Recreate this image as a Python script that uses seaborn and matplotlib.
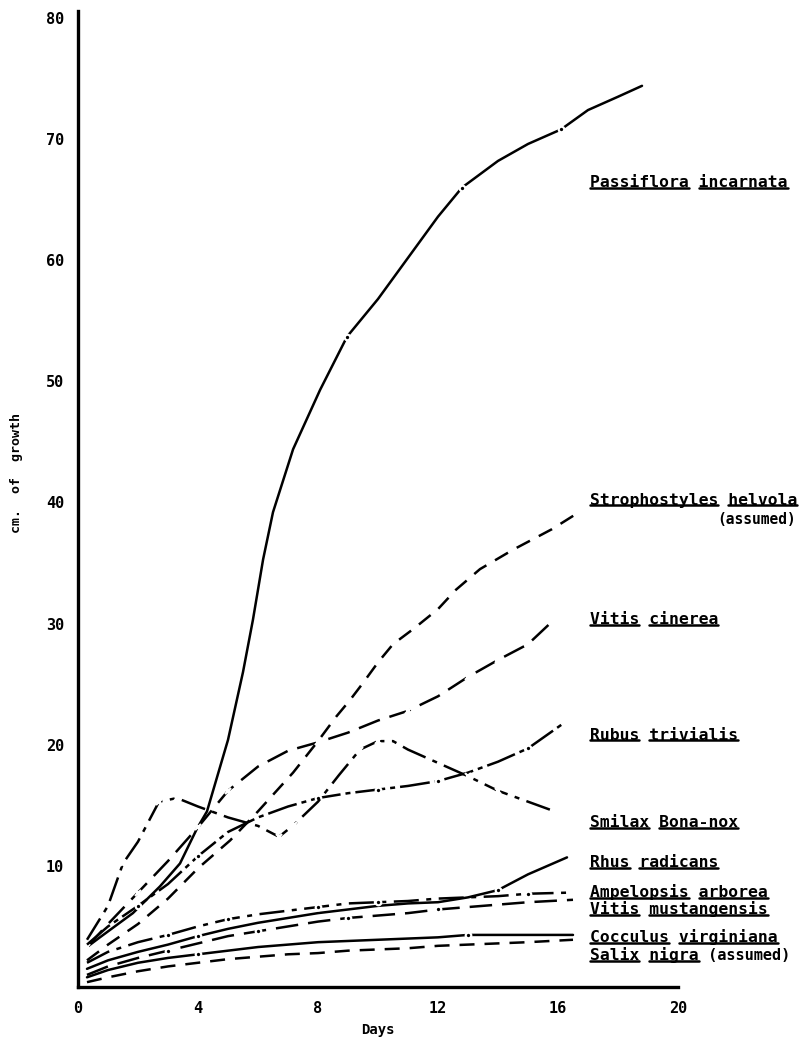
import matplotlib
matplotlib.use("Agg")
import matplotlib.pyplot as plt
import seaborn as sns
import pandas as pd
from matplotlib.lines import Line2D

# days and cm of growth
passiflora_x = [0.3, 0.73, 1.83, 2.73, 3.4, 3.97, 4.3, 5.0, 5.5, 5.83, 6.17, 6.5, 7.17, 8.07, 8.97, 10.0, 11.0, 12.0, 12.8, 14.0, 15.0, 16.1, 17.0, 18.0, 18.8]
passiflora_y = [3.3, 4.1, 6.1, 8.3, 10.2, 13.1, 14.5, 20.4, 26.0, 30.3, 35.3, 39.2, 44.4, 49.3, 53.7, 56.8, 60.2, 63.6, 66.0, 68.2, 69.6, 70.8, 72.4, 73.5, 74.4]

stropho_x = [0.3, 1.0, 2.0, 3.0, 3.4, 4.0, 5.07, 6.0, 6.73, 7.17, 8.0, 8.6, 9.07, 9.5, 10.0, 10.5, 11.2, 12.0, 12.6, 13.4, 14.5, 15.8, 16.7]
stropho_y = [2.2, 3.5, 5.2, 7.3, 8.3, 9.8, 12.1, 14.5, 16.5, 17.7, 20.3, 22.3, 23.7, 25.1, 26.8, 28.3, 29.6, 31.2, 32.8, 34.5, 36.1, 37.8, 39.2]

cinerea_x = [0.3, 1.0, 2.0, 3.0, 4.0, 5.0, 6.0, 7.0, 8.0, 9.0, 10.0, 11.0, 12.0, 13.0, 14.0, 15.0, 15.9]
cinerea_y = [3.3, 5.2, 7.8, 10.4, 13.2, 16.2, 18.2, 19.5, 20.2, 21.0, 22.0, 22.8, 24.0, 25.6, 27.0, 28.3, 30.4]

rubus_x = [0.3, 1.0, 2.0, 3.0, 4.0, 5.0, 6.0, 7.0, 8.0, 9.0, 10.0, 11.0, 12.0, 13.0, 14.0, 15.0, 16.2]
rubus_y = [3.5, 5.0, 6.7, 8.5, 10.8, 12.8, 14.0, 14.9, 15.6, 16.0, 16.3, 16.6, 17.0, 17.7, 18.6, 19.7, 21.8]

smilax_x = [0.3, 1.0, 1.5, 2.0, 2.7, 3.3, 4.0, 5.0, 6.0, 6.7, 7.2, 8.0, 8.7, 9.4, 10.0, 10.5, 11.0, 12.0, 13.0, 14.0, 15.0, 16.0]
smilax_y = [3.9, 6.7, 10.2, 12.0, 15.3, 15.6, 14.9, 14.0, 13.3, 12.4, 13.4, 15.3, 17.5, 19.6, 20.3, 20.3, 19.6, 18.5, 17.4, 16.2, 15.3, 14.4]

rhus_x = [0.3, 1.0, 2.0, 3.0, 4.0, 5.0, 6.0, 7.0, 8.0, 9.0, 10.0, 11.0, 12.0, 13.0, 14.0, 15.0, 16.3]
rhus_y = [1.5, 2.2, 2.9, 3.5, 4.2, 4.8, 5.3, 5.7, 6.1, 6.4, 6.7, 6.9, 7.0, 7.4, 8.0, 9.3, 10.7]

ampel_x = [0.3, 1.0, 2.0, 3.0, 4.0, 5.0, 6.0, 7.0, 8.0, 9.0, 10.0, 11.0, 12.0, 13.0, 14.0, 15.0, 16.5]
ampel_y = [2.0, 2.9, 3.7, 4.3, 5.0, 5.6, 6.0, 6.3, 6.6, 6.9, 7.0, 7.1, 7.3, 7.4, 7.5, 7.7, 7.8]

mustang_x = [0.3, 1.0, 2.0, 3.0, 4.0, 5.0, 6.0, 7.0, 8.0, 9.0, 10.0, 11.0, 12.0, 13.0, 14.0, 15.0, 16.5]
mustang_y = [1.0, 1.7, 2.4, 3.0, 3.6, 4.2, 4.6, 5.0, 5.4, 5.7, 5.9, 6.1, 6.4, 6.6, 6.8, 7.0, 7.2]

cocculus_x = [0.3, 1.0, 2.0, 3.0, 4.0, 5.0, 6.0, 7.0, 8.0, 9.0, 10.0, 11.0, 12.0, 13.0, 14.0, 15.0, 16.5]
cocculus_y = [0.8, 1.4, 2.0, 2.4, 2.7, 3.0, 3.3, 3.5, 3.7, 3.8, 3.9, 4.0, 4.1, 4.3, 4.3, 4.3, 4.3]

salix_x = [0.3, 1.0, 2.0, 3.0, 4.0, 5.0, 6.0, 7.0, 8.0, 9.0, 10.0, 11.0, 12.0, 13.0, 14.0, 15.0, 16.5]
salix_y = [0.4, 0.8, 1.3, 1.7, 2.0, 2.3, 2.5, 2.7, 2.8, 3.0, 3.1, 3.2, 3.4, 3.5, 3.6, 3.7, 3.9]

x_ticks = [0, 4, 8, 12, 16, 20]
y_ticks = [10, 20, 30, 40, 50, 60, 70, 80]

MONO = ["DejaVu Sans Mono", "Liberation Mono"]

sns.set_style("white")
plt.rcParams["font.family"] = MONO
plt.rcParams["font.weight"] = "bold"
for key in ("text.color", "axes.labelcolor", "xtick.color", "ytick.color"):
    plt.rcParams[key] = "black"

fig = plt.figure(figsize=(8.01, 10.40), dpi=100)
ax = fig.add_axes([78 / 801, 53 / 1040, 723 / 801, 969 / 1040])

series = [
    # x, y, linestyle, marker, markevery
    (passiflora_x, passiflora_y, "-", "o", [14, 18, 21]),
    (stropho_x, stropho_y, (0, (6, 4)), None, None),
    (cinerea_x, cinerea_y, (0, (9, 4)), "x", [0, 2, 4, 5, 8, 11, 13, 14, 15, 16]),
    (rubus_x, rubus_y, (0, (12, 2, 2, 2)), "o", [2, 4, 8, 10, 12, 15]),
    (smilax_x, smilax_y, (0, (10, 3, 2, 3)), "x", [2, 4, 5, 9, 10, 13, 14, 18, 19, 21]),
    (rhus_x, rhus_y, "-", "o", [4, 14]),
    (ampel_x, ampel_y, (0, (10, 3, 2, 3)), "o", [3, 5, 8, 10, 15]),
    (mustang_x, mustang_y, (0, (9, 4)), "o", [3, 6, 9, 12]),
    (cocculus_x, cocculus_y, "-", "o", [4, 13]),
    (salix_x, salix_y, (0, (6, 4)), None, None),
]

for xs, ys, ls, mk, every in series:
    df = pd.DataFrame({"day": xs, "cm": ys})
    kw = dict(color="black", linewidth=1.8, linestyle=ls, ax=ax, clip_on=False)
    if mk is not None:
        kw.update(marker=mk, markevery=every, markersize=4, markeredgewidth=1.6)
    sns.lineplot(data=df, x="day", y="cm", estimator=None, sort=False, **kw)

ax.set_xlim(0, 24.1)
ax.set_ylim(0, 80)
sns.despine(ax=ax)
ax.spines["left"].set_bounds(0, 80.6)
ax.spines["bottom"].set_bounds(0, 20)
for s in ("left", "bottom"):
    ax.spines[s].set_linewidth(2.4)
    ax.spines[s].set_color("black")

ax.set_xticks(x_ticks)
ax.set_yticks(y_ticks)
ax.tick_params(length=0, labelsize=11, pad=10)
for t in ax.get_xticklabels() + ax.get_yticklabels():
    t.set_fontweight("bold")
ax.set_xlabel("Days", fontsize=10, fontweight="bold")
ax.xaxis.set_label_coords(300 / 723, -36 / 969)
ax.set_ylabel("cm.  of  growth", fontsize=9.5, fontweight="bold")
ax.yaxis.set_label_coords(-55 / 723, 0.53)

# species labels on the right, each word underlined like the typed original
labels = [
    (66.4, "Passiflora incarnata", None),
    (40.2, "Strophostyles helvola", None),
    (30.3, "Vitis cinerea", None),
    (20.8, "Rubus trivialis", None),
    (13.6, "Smilax Bona-nox", None),
    (10.3, "Rhus radicans", None),
    (7.85, "Ampelopsis arborea", None),
    (6.45, "Vitis mustangensis", None),
    (4.13, "Cocculus virginiana", None),
    (2.64, "Salix nigra", " (assumed)"),
]
label_x = 17.07

fig.canvas.draw()
renderer = fig.canvas.get_renderer()
inv = fig.transFigure.inverted()


def underline(txt, text_str):
    bb = txt.get_window_extent(renderer)
    cw = bb.width / len(text_str)
    pos = 0
    for word in text_str.split(" "):
        if word:
            x0 = bb.x0 + pos * cw
            x1 = bb.x0 + (pos + len(word)) * cw
            yl = bb.y0 + 0.14 * bb.height
            (fx0, fy), (fx1, _) = inv.transform([(x0, yl), (x1, yl)])
            fig.add_artist(Line2D([fx0, fx1], [fy, fy], color="black", linewidth=1.8))
        pos += len(word) + 1


for yv, name, extra in labels:
    t = ax.text(label_x, yv, name, fontsize=11.8, fontweight="bold", va="center", ha="left")
    fig.canvas.draw()
    underline(t, name)
    if extra:
        bb = t.get_window_extent(renderer)
        fx, fy = inv.transform((bb.x1, (bb.y0 + bb.y1) / 2))
        fig.text(fx, fy, extra, fontsize=11, fontweight="bold", va="center", ha="left")

ax.text(23.95, 38.6, "(assumed)", fontsize=10.5, fontweight="bold", va="center", ha="right")

fig.savefig("out.png", dpi=100)
